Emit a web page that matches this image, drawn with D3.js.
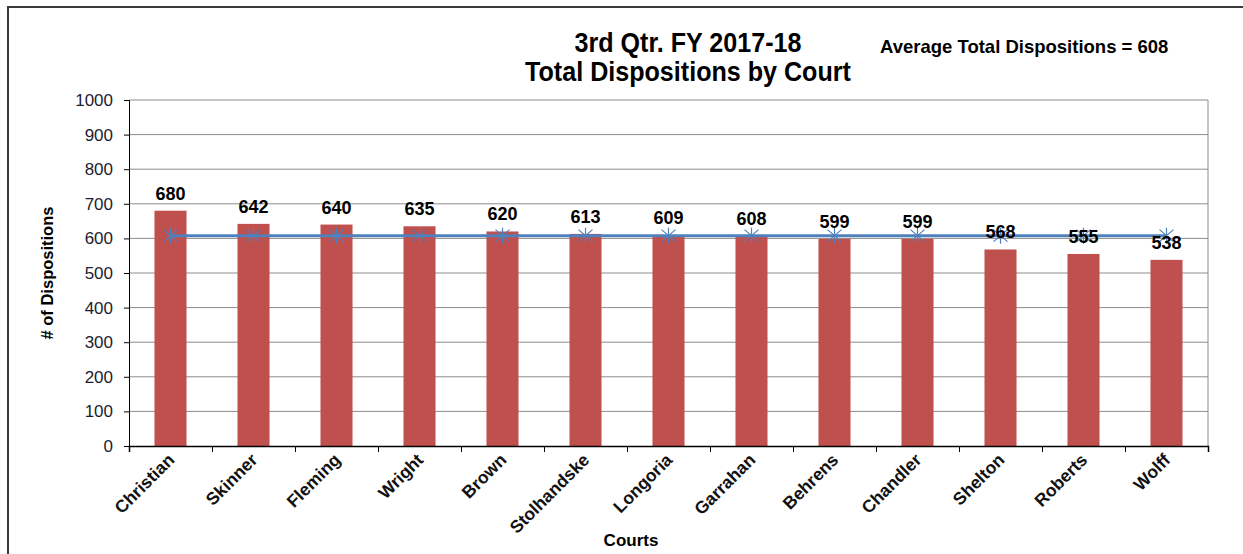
<!DOCTYPE html>
<html lang="en">
<head>
  <meta charset="UTF-8" />
  <title>Total Dispositions by Court</title>
  <script src="https://d3js.org/d3.v7.min.js"></script>
  <style>
    body { margin: 0; background: #fff; }
    svg { display: block; }
  </style>
</head>
<body>
  <div id="chart"></div>
  <script>
    const courts = ["Christian", "Skinner", "Fleming", "Wright", "Brown", "Stolhandske", "Longoria",
                    "Garrahan", "Behrens", "Chandler", "Shelton", "Roberts", "Wolff"];
    const dispositions = [680, 642, 640, 635, 620, 613, 609, 608, 599, 599, 568, 555, 538];
    const average = 608;
    const yTicks = [0, 100, 200, 300, 400, 500, 600, 700, 800, 900, 1000];

    const width = 1243, height = 554;
    const margin = { top: 100, right: 35, bottom: 108, left: 129 };
    const font = "Arial, 'Liberation Sans', sans-serif";

    const svg = d3.select("#chart").append("svg").attr("width", width).attr("height", height);

    // outer chart frame
    svg.append("rect").attr("x", 8).attr("y", 7).attr("width", 1260).attr("height", 600)
      .attr("fill", "none").attr("stroke", "#3a3a3a").attr("stroke-width", 2);

    const x = d3.scaleBand().domain(courts).range([margin.left, width - margin.right]).paddingInner(0.614).paddingOuter(0.307);
    const xEdges = d3.scaleLinear().domain([0, courts.length]).range([margin.left, width - margin.right]);
    const y = d3.scaleLinear().domain([0, 1000]).range([height - margin.bottom, margin.top]);

    // gridlines
    svg.append("g").selectAll("line").data(yTicks.slice(1)).enter().append("line")
      .attr("x1", margin.left).attr("x2", width - margin.right)
      .attr("y1", d => y(d)).attr("y2", d => y(d))
      .attr("stroke", "#8c8c8c").attr("stroke-width", 1);
    // plot border right
    svg.append("line").attr("x1", width - margin.right).attr("x2", width - margin.right)
      .attr("y1", margin.top).attr("y2", y(0)).attr("stroke", "#8c8c8c");

    // bars
    svg.append("g").selectAll("rect").data(dispositions).enter().append("rect")
      .attr("x", (d, i) => x(courts[i])).attr("width", x.bandwidth())
      .attr("y", d => y(d)).attr("height", d => y(0) - y(d))
      .attr("fill", "#c0504d");

    // y axis
    const yAxis = svg.append("g").attr("transform", `translate(${margin.left},0)`)
      .call(d3.axisLeft(y).tickValues(yTicks).tickFormat(d3.format("d")).tickSize(5).tickPadding(11));
    yAxis.select(".domain").attr("stroke", "#000");
    yAxis.selectAll(".tick line").attr("stroke", "#000");
    yAxis.selectAll("text").style("font-family", font)
      .style("font-size", "17px").attr("fill", "#1c1c30");

    // x axis with ticks at category boundaries
    const xAxis = svg.append("g").attr("transform", `translate(0,${y(0)})`)
      .call(d3.axisBottom(xEdges).tickValues(d3.range(0, courts.length + 1)).tickSize(6).tickFormat(""));
    xAxis.select(".domain").attr("stroke", "#000").attr("stroke-width", 1.5);
    xAxis.selectAll(".tick line").attr("stroke", "#000");

    svg.append("g").selectAll("text").data(courts).enter().append("text")
      .attr("transform", d => `translate(${x(d) + x.bandwidth() / 2 + 5},${y(0) + 15}) rotate(-45)`)
      .attr("text-anchor", "end")
      .style("font-family", font).style("font-size", "17.5px").style("font-weight", "bold")
      .attr("fill", "#111").text(d => d);

    // average line
    const lineGen = d3.line().x(d => x(d) + x.bandwidth() / 2).y(() => y(average));
    svg.append("path").datum(courts).attr("d", lineGen)
      .attr("fill", "none").attr("stroke", "#4f81bd").attr("stroke-width", 3);

    const marker = svg.append("g").selectAll("g").data(courts).enter().append("g")
      .attr("transform", d => `translate(${x(d) + x.bandwidth() / 2},${y(average)})`);
    marker.append("path").attr("d", "M0,-8L0,8M-7,-6L7,6M-7,6L7,-6")
      .attr("stroke", "#4f81bd").attr("stroke-width", 1.2).attr("fill", "none");

    // data labels
    svg.append("g").selectAll("text").data(dispositions).enter().append("text")
      .attr("x", (d, i) => x(courts[i]) + x.bandwidth() / 2).attr("y", d => y(d) - 11)
      .attr("text-anchor", "middle")
      .style("font-family", font).style("font-size", "18px").style("font-weight", "bold")
      .attr("fill", "#000").text(d => d);

    // titles
    const title = svg.append("text").attr("text-anchor", "middle").attr("transform", "scale(0.93,1)")
      .style("font-family", font).style("font-size", "27px").style("font-weight", "bold")
      .attr("fill", "#000");
    title.append("tspan").attr("x", 688 / 0.93).attr("y", 52).text("3rd Qtr. FY 2017-18");
    title.append("tspan").attr("x", 688 / 0.93).attr("y", 81).text("Total Dispositions by Court");

    svg.append("text").attr("x", 880).attr("y", 53)
      .style("font-family", font).style("font-size", "18.5px").style("font-weight", "bold")
      .attr("fill", "#000").text(`Average Total Dispositions = ${average}`);

    svg.append("text").attr("transform", `translate(53,${(margin.top + y(0)) / 2}) rotate(-90)`)
      .attr("text-anchor", "middle")
      .style("font-family", font).style("font-size", "16.5px").style("font-weight", "bold")
      .attr("fill", "#000").text("# of Dispositions");

    svg.append("text").attr("x", 631).attr("y", 546).attr("text-anchor", "middle")
      .style("font-family", font).style("font-size", "17px").style("font-weight", "bold")
      .attr("fill", "#000").text("Courts");
  </script>
</body>
</html>
